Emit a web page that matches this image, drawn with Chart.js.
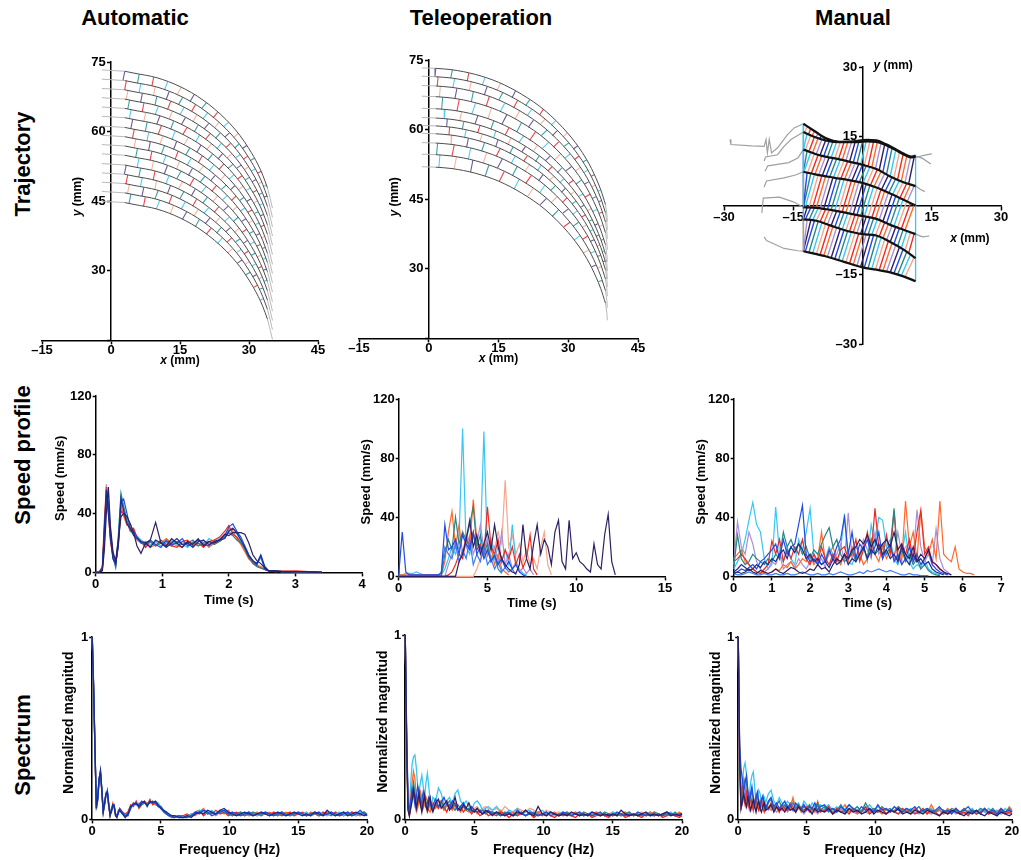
<!DOCTYPE html>
<html>
<head>
<meta charset="utf-8">
<title>Trajectory, speed profile and spectrum</title>
<script src="https://cdn.jsdelivr.net/npm/chart.js@4.4.1/dist/chart.umd.min.js"></script>
<style>
  html, body { margin: 0; padding: 0; background: #fff; }
  body { width: 1021px; height: 860px; position: relative; overflow: hidden; font-family: Arial, "Liberation Sans", sans-serif; }
  .panel { position: absolute; }
  .head { position: absolute; font-weight: bold; font-size: 22px; transform: translate(-50%, -50%); white-space: nowrap; }
  .row { position: absolute; font-weight: bold; font-size: 22px; transform: translate(-50%, -50%) rotate(-90deg); white-space: nowrap; }
</style>
</head>
<body>
<div class="head" style="left:135px;top:18px">Automatic</div>
<div class="head" style="left:481px;top:18px">Teleoperation</div>
<div class="head" style="left:853px;top:18px">Manual</div>
<div class="row" style="left:23px;top:164px">Trajectory</div>
<div class="row" style="left:23px;top:455px">Speed profile</div>
<div class="row" style="left:23px;top:745px">Spectrum</div>
<script>
const FONT = 'Arial, "Liberation Sans", sans-serif';
const C = {
  indigo: '#2e1f63', navy: '#1b2d8f', blue: '#1f4be8', royal: '#3d7cf2', cyan: '#38c6f4',
  red: '#ef2a1f', orange: '#ff6a2b', salmon: '#f7a58c', teal: '#2b8585', lavender: '#a98fd6'
};

// ---- trajectories (mm) ----
// automatic: top arc profile, every other arc is the same path lowered by autoArcDrop
const autoArcX = [3, 5, 10, 15, 20, 25, 28, 30, 32, 33, 34];
const autoArcY = [73.0, 72.6, 71.6, 69.7, 66.8, 62.6, 59.2, 56.3, 52.8, 50.6, 47.9];
const autoArcDrop = [0, 2.0, 4.0, 6.0, 8.0, 10.0, 12.1, 14.1, 16.1, 18.1, 20.2, 22.2, 24.2, 26.2, 28.3];
const autoLeadX = [-2, 3];
const autoLeadY = [73.3, 73.0];
const autoTailX = [34, 34.6, 35.1];
const autoTailY = [47.9, 45.6, 43.5];

const teleArcX = [1.5, 5, 10, 15, 20, 25, 30, 33, 35, 37, 38];
const teleArcY = [73.2, 72.9, 71.9, 70.2, 67.6, 64.1, 59.1, 55.1, 51.6, 47.0, 43.9];
const teleArcDrop = [0, 1.8, 3.8, 6.1, 8.7, 10.7, 12.4, 14.1, 16.1, 18.6, 21.3];
const teleLeadX = [-1.5, 1.5];
const teleLeadY = [73.3, 73.2];
const teleTailX = [38, 38.3, 38.4];
const teleTailY = [43.9, 41.8, 40.2];

// manual: the seven traced paths, top to bottom
const manualPathA = [[-12.8, 17.7], [-10.5, 16.2], [-8, 14.6], [-5, 13.8], [-2, 13.9], [1, 14.2], [3, 14.1], [5, 13.3], [7, 12.3], [9, 11.2], [10.5, 10.6], [11.5, 10.8]];
const manualPathB = [[-12.8, 15.9], [-10.5, 14.9], [-8, 14.1], [-5, 13.7], [-2, 13.7], [1, 13.9], [3, 13.8], [5, 13.1], [7, 12.1], [9, 11.0], [10.5, 10.4], [11.5, 10.6]];
const manualPathC = [[-12.8, 12.1], [-9, 10.8], [-5, 10.0], [-2, 9.3], [0, 8.8], [3, 7.9], [6, 6.3], [9, 5.0], [11.5, 4.2]];
const manualPathD = [[-12.8, 7.3], [-10, 6.7], [-6, 6.0], [-3, 5.5], [0, 4.9], [3, 3.9], [6, 2.6], [9, 1.2], [11.5, 0]];
const manualPathE = [[-12.8, -0.4], [-10, -0.5], [-6, -1.1], [-3, -1.7], [0, -2.3], [3, -2.9], [6, -4.2], [9, -5.3], [11.5, -6.2]];
const manualPathF = [[-12.8, -3.0], [-10, -3.3], [-7, -4.3], [-4, -5.3], [0, -6.2], [3, -6.5], [6, -7.9], [9, -9.6], [11.5, -11.4]];
const manualPathG = [[-12.8, -9.9], [-8, -11.0], [-4, -12.2], [0, -13.4], [3, -13.9], [6, -14.5], [9, -15.4], [11.5, -16.4]];
const manualFanX = [-12.8, -12.0, -11.2, -10.4, -9.6, -8.8, -8.0, -7.2, -6.4, -5.6, -4.8, -4.0, -3.2, -2.4, -1.6, -0.8, 0, 0.8, 1.6, 2.4, 3.2, 4.0, 4.8, 5.6, 6.4, 7.2, 8.0, 8.8, 9.6, 10.4, 11.2];
const manualFanSlant = [0.5, 1.2, 1.5, 2.0, 1.2, 2.0];
const manualLeads = [
  [[-28.7, 14.3], [-28.5, 13.2], [-24, 12.9], [-21.3, 12.8], [-20.9, 14.3], [-20.6, 11.4], [-20.2, 14.3], [-19.7, 11.4], [-18.4, 12.5], [-16.2, 15.4], [-14.8, 16.8], [-12.8, 17.7]],
  [[-21.3, 9.6], [-21, 10.5], [-18.4, 11.0], [-17, 12.8], [-15.5, 14.3], [-12.8, 15.9]],
  [[-21.1, 7.4], [-20.5, 8.6], [-16, 9.3], [-14, 10.3], [-12.8, 12.1]],
  [[-21.3, 4.0], [-20.8, 5.3], [-17, 6.0], [-14.5, 6.6], [-12.8, 7.3]],
  [[-21.8, -1.6], [-21.5, 1.6], [-18, 1.8], [-15, 0.8], [-12.8, -0.4]],
  [[-21.3, -6.8], [-20.8, -7.6], [-17, -9.3], [-14, -9.8], [-12.8, -9.9]],
  [[11.5, 10.7], [13, 10.2], [14.8, 9.0]],
  [[11.5, 10.4], [13.5, 10.9], [15, 11.2]],
  [[11.5, 4.2], [12.5, 3.5], [13.5, 3.0]],
  [[11.5, -6.2], [13, -6.8], [14.5, -6.6]]
];

// ---- speed profiles (mm/s) ----
const autoTime = [0, 0.05, 0.1, 0.13, 0.16, 0.19, 0.22, 0.26, 0.3, 0.34, 0.38, 0.42, 0.47, 0.52, 0.57, 0.62, 0.68, 0.75, 0.82, 0.9, 0.98, 1.06, 1.14, 1.22, 1.3, 1.38, 1.46, 1.54, 1.62, 1.7, 1.78, 1.86, 1.94, 2.0, 2.06, 2.12, 2.18, 2.24, 2.3, 2.36, 2.42, 2.48, 2.54, 2.6, 2.7, 2.8, 3.0, 3.2, 3.4];
const autoIndigo = [0, 0, 1, 15, 40, 58, 32, 14, 8, 22, 38, 40, 38, 33, 27, 18, 13, 20, 22, 34, 20, 18, 23, 20, 17, 21, 19, 23, 18, 21, 20, 22, 26, 25, 27, 27, 27, 26, 20, 12, 8, 6, 3, 1, 1, 0.5, 0.5, 0.3, 0];
const autoNavy = [0, 0, 2, 30, 56, 40, 24, 9, 6, 18, 50, 42, 33, 30, 25, 23, 21, 20, 17, 22, 20, 17, 20, 23, 19, 20, 17, 21, 22, 19, 21, 22, 23, 28, 30, 27, 22, 17, 11, 8, 6, 12, 4, 1, 0.5, 0.5, 0.5, 0.3, 0];
const autoBlue = [0, 0, 3, 25, 52, 48, 28, 12, 5, 20, 48, 50, 40, 30, 28, 24, 20, 19, 22, 19, 17, 22, 19, 20, 23, 18, 20, 22, 19, 18, 21, 22, 25, 31, 33, 28, 24, 18, 12, 8, 5, 11, 2, 1, 1, 0.5, 0.5, 0.3, 0];
const autoCyan = [0, 0, 2, 20, 48, 55, 30, 10, 3, 25, 52, 44, 36, 28, 26, 25, 22, 18, 19, 21, 18, 20, 22, 19, 19, 17, 21, 20, 18, 23, 21, 23, 26, 29, 30, 26, 22, 18, 12, 8, 6, 10, 3, 1, 1, 0.5, 0.5, 0, 0];
const autoRed = [0, 0, 4, 35, 58, 42, 22, 10, 6, 18, 42, 40, 34, 28, 30, 24, 21, 17, 21, 18, 22, 19, 18, 17, 21, 22, 18, 20, 17, 21, 22, 24, 28, 32, 26, 24, 20, 16, 10, 6, 4, 3, 2, 1, 1, 0.5, 1, 0.5, 0];
const autoOrange = [0, 0, 3, 28, 50, 45, 25, 12, 4, 22, 46, 38, 32, 33, 27, 22, 20, 21, 17, 19, 20, 23, 20, 18, 17, 21, 20, 18, 22, 17, 20, 21, 24, 30, 28, 23, 19, 14, 9, 7, 5, 4, 2, 1, 0.5, 1, 0.5, 0.5, 0];
const autoTeal = [0, 0, 3, 26, 50, 46, 26, 11, 4, 24, 54, 45, 35, 29, 27, 24, 21, 19, 21, 18, 20, 21, 18, 21, 19, 20, 22, 18, 20, 21, 19, 21, 24, 27, 25, 22, 20, 16, 10, 7, 4, 3, 2, 1, 1, 0.5, 0.5, 0.3, 0];
const autoLavender = [0, 0, 2, 22, 60, 44, 26, 10, 5, 20, 44, 42, 34, 30, 26, 24, 22, 20, 18, 21, 20, 18, 21, 20, 21, 19, 20, 22, 20, 18, 22, 22, 25, 28, 26, 24, 21, 16, 11, 7, 5, 3, 2, 1, 1, 1, 0.5, 0.3, 0];

const teleTime = [0, 0.2, 0.4, 0.6, 0.8, 1, 1.2, 1.4, 1.6, 1.8, 2, 2.2, 2.4, 2.6, 2.8, 3, 3.2, 3.4, 3.6, 3.8, 4, 4.2, 4.4, 4.6, 4.8, 5, 5.2, 5.4, 5.6, 5.8, 6, 6.2, 6.4, 6.6, 6.8, 7, 7.2, 7.4, 7.6, 7.8, 8, 8.2, 8.4, 8.6, 8.8, 9, 9.2, 9.4, 9.6, 9.8, 10, 10.2, 10.4, 10.6, 10.8, 11, 11.2, 11.4, 11.6, 11.8, 12, 12.2];
const teleIndigo = [0, 0, 0, 0, 0, 0, 0, 0, 0, 0, 0, 0, 0, 0, 0, 0, 0, 10, 15, 25, 38, 20, 28, 15, 22, 30, 18, 35, 20, 12, 8, 5, 3, 2, 8, 35, 12, 5, 22, 35, 15, 25, 20, 8, 30, 38, 10, 5, 38, 12, 16, 10, 8, 5, 3, 22, 8, 5, 28, 42, 10, 1];
const teleBlue = [1, 30, 3, 1, 1, 1, 1, 1, 1, 1, 1, 1, 2, 35, 18, 20, 25, 15, 28, 22, 18, 30, 15, 20, 12, 18, 10, 14, 8, 12, 6, 10, 5, 8, 3, 1, 0];
const teleCyan = [1, 1, 2, 2, 2, 3, 2, 1, 1, 1, 1, 1, 1, 5, 12, 20, 15, 25, 100, 20, 15, 28, 18, 22, 98, 15, 25, 12, 20, 10, 18, 8, 35, 10, 5, 2, 1];
const teleOrange = [1, 1, 1, 1, 1, 1, 1, 1, 1, 1, 1, 1, 1, 10, 30, 44, 20, 35, 15, 28, 20, 52, 25, 18, 22, 14, 20, 8, 15, 5, 3, 1];
const teleRed = [0, 0, 0, 0, 0, 0, 0, 0, 0, 0, 0, 0, 0, 0, 1, 3, 8, 15, 12, 25, 20, 30, 18, 22, 14, 47, 20, 15, 25, 10, 18, 12, 20, 8, 15, 6, 12, 28, 5, 1];
const teleSalmon = [0, 0, 0, 0, 0, 0, 0, 0, 0, 0, 0, 0, 0, 0, 0, 0, 0, 0, 0, 0, 0, 0, 5, 12, 20, 15, 25, 18, 30, 22, 65, 20, 28, 15, 22, 10, 18, 8, 12, 5, 20, 30, 8, 1];
const teleTeal = [0, 0, 0, 0, 0, 0, 0, 0, 0, 0, 0, 0, 0, 15, 25, 18, 40, 22, 30, 25, 35, 47, 20, 28, 15, 22, 10, 15, 5, 2];
const teleLavender = [0, 0, 0, 0, 0, 0, 0, 0, 0, 0, 0, 0, 0, 0, 8, 15, 25, 18, 30, 20, 28, 15, 22, 35, 18, 25, 12, 20, 10, 30, 8, 15, 5, 10, 3, 6, 2, 5, 1];
const teleNavy = [0, 0, 0, 0, 0, 0, 0, 0, 0, 0, 0, 0, 3, 20, 15, 12, 22, 10, 18, 12, 25, 8, 15, 10, 20, 8, 12, 5, 10, 3, 6, 3, 5, 1];

const manualTime = [0, 0.1, 0.2, 0.3, 0.4, 0.5, 0.6, 0.7, 0.8, 0.9, 1, 1.1, 1.2, 1.3, 1.4, 1.5, 1.6, 1.7, 1.8, 1.9, 2, 2.1, 2.2, 2.3, 2.4, 2.5, 2.6, 2.7, 2.8, 2.9, 3, 3.1, 3.2, 3.3, 3.4, 3.5, 3.6, 3.7, 3.8, 3.9, 4, 4.1, 4.2, 4.3, 4.4, 4.5, 4.6, 4.7, 4.8, 4.9, 5, 5.1, 5.2, 5.3, 5.4, 5.5, 5.6, 5.7, 5.8, 5.9, 6, 6.1, 6.2, 6.3];
const manualCyan = [5, 10, 15, 25, 38, 50, 35, 30, 12, 5, 8, 47, 15, 10, 20, 12, 8, 25, 18, 30, 46, 15, 10, 8, 12, 20, 15, 10, 18, 42, 10, 8, 15, 12, 20, 10, 35, 22, 40, 38, 20, 25, 12, 8, 15, 30, 10, 5, 8, 6, 12, 5, 3, 2, 1];
const manualLavender = [8, 37, 20, 15, 30, 22, 10, 5, 3, 5, 10, 8, 15, 5, 8, 10, 6, 12, 8, 5, 10, 15, 8, 12, 6, 18, 10, 15, 22, 10, 43, 12, 20, 15, 25, 18, 12, 30, 15, 20, 25, 18, 12, 30, 15, 20, 22, 12, 45, 20, 10, 15, 8, 32, 12, 5, 3, 1];
const manualBlue = [2, 3, 5, 4, 6, 8, 5, 10, 12, 15, 18, 22, 12, 25, 15, 20, 22, 35, 48, 15, 10, 12, 8, 15, 10, 18, 12, 20, 25, 40, 15, 30, 12, 22, 18, 25, 15, 20, 30, 12, 18, 22, 10, 15, 8, 12, 20, 10, 15, 8, 12, 18, 8, 5, 3, 2, 1];
const manualRed = [10, 12, 15, 12, 8, 5, 3, 2, 5, 8, 24, 15, 25, 10, 18, 12, 20, 15, 25, 12, 8, 15, 10, 20, 12, 8, 15, 10, 18, 20, 12, 15, 25, 10, 18, 30, 15, 46, 20, 12, 28, 15, 44, 10, 20, 15, 25, 12, 30, 45, 15, 20, 10, 8, 5, 3, 1];
const manualOrange = [12, 15, 18, 10, 8, 5, 3, 2, 3, 2, 3, 5, 4, 8, 6, 10, 5, 8, 12, 10, 15, 8, 12, 30, 10, 15, 20, 12, 8, 15, 10, 20, 12, 15, 8, 12, 25, 15, 10, 20, 12, 18, 15, 20, 10, 51, 20, 30, 12, 44, 20, 15, 25, 12, 51, 15, 12, 10, 20, 5, 3, 2, 2, 1];
const manualTeal = [6, 28, 12, 8, 10, 15, 12, 10, 8, 12, 10, 15, 12, 30, 20, 25, 18, 22, 15, 20, 12, 18, 15, 22, 28, 33, 20, 25, 15, 10, 12, 18, 10, 15, 20, 12, 25, 15, 18, 22, 15, 20, 46, 12, 18, 10, 15, 8, 12, 5, 8, 4, 2, 1, 0.5];
const manualIndigo = [2, 3, 2, 3, 5, 3, 2, 4, 3, 2, 3, 5, 3, 2, 4, 6, 5, 3, 2, 3, 5, 4, 8, 5, 6, 3, 8, 12, 10, 15, 12, 18, 20, 25, 22, 28, 20, 25, 18, 22, 25, 20, 30, 18, 22, 15, 12, 20, 10, 15, 12, 18, 10, 8, 5, 3, 2, 1];
const manualNavy = [3, 5, 8, 6, 4, 5, 8, 6, 10, 8, 12, 10, 15, 18, 12, 20, 16, 22, 18, 12, 15, 10, 12, 8, 10, 6, 12, 8, 10, 15, 8, 12, 10, 15, 20, 12, 18, 15, 22, 15, 18, 12, 15, 10, 20, 12, 8, 15, 10, 12, 8, 10, 5, 3, 2, 1];
const manualRoyal = [2, 1, 1, 2, 3, 2, 1, 1, 2, 1, 1, 2, 1, 1, 2, 1, 1, 2, 3, 2, 1, 1, 2, 1, 1, 2, 1, 2, 3, 2, 1, 1, 2, 3, 2, 4, 3, 4, 5, 4, 3, 4, 3, 2, 1, 1, 2, 1, 1, 0.5, 0.5, 0.5];

// ---- spectra (normalized magnitude) ----
const specFreq = [0, 0.1, 0.2, 0.3, 0.4, 0.5, 0.6, 0.7, 0.8, 0.9, 1, 1.1, 1.2, 1.3, 1.4, 1.5, 1.6, 1.7, 1.8, 1.9, 2,
  2.2, 2.4, 2.6, 2.8, 3, 3.2, 3.4, 3.6, 3.8, 4, 4.2, 4.4, 4.6, 4.8, 5, 5.2, 5.4, 5.6, 5.8, 6,
  6.3, 6.6, 6.9, 7.2, 7.5, 7.8, 8.1, 8.4, 8.7, 9, 9.3, 9.6, 9.9, 10.2, 10.5, 10.8, 11.1, 11.4, 11.7, 12,
  12.3, 12.6, 12.9, 13.2, 13.5, 13.8, 14.1, 14.4, 14.7, 15, 15.3, 15.6, 15.9, 16.2, 16.5, 16.8, 17.1, 17.4, 17.7, 18,
  18.3, 18.6, 18.9, 19.2, 19.5, 19.8, 20];

const autoSpecNavy = [1, .72, .38, .06, .12, .22, .27, .16, .04, .09, .14, .15, .08, .02, .05, .08, .07, .02, .01, .04, .05,
  .03, .01, .03, .07, .08, .09, .07, .09, .10, .07, .10, .09, .10, .08, .06, .05, .04, .03, .02, .02,
  .01, .01, .02, .01, .03, .04, .03, .05, .04, .03, .05, .06, .04, .03, .02, .03, .04, .03, .02, .03,
  .04, .03, .02, .03, .04, .03, .02, .03, .04, .03, .02, .03, .02, .04, .03, .02, .05, .03, .02, .03, .04, .02, .03, .04, .03, .02, .03];
const autoSpecBlue = [1, .74, .40, .08, .10, .21, .26, .17, .05, .08, .13, .16, .09, .03, .04, .07, .08, .03, .02, .03, .06,
  .04, .02, .02, .06, .09, .08, .08, .10, .09, .08, .09, .10, .09, .07, .07, .05, .03, .02, .02, .01,
  .02, .01, .01, .02, .04, .03, .05, .04, .02, .03, .04, .05, .03, .04, .03, .02, .03, .04, .02, .03,
  .03, .04, .03, .02, .03, .04, .02, .03, .03, .04, .03, .02, .03, .03, .04, .02, .03, .04, .03, .02, .03, .04, .02, .03, .05, .03, .02];
const autoSpecRed = [1, .71, .37, .07, .13, .23, .25, .15, .03, .10, .14, .14, .07, .03, .06, .08, .06, .02, .02, .05, .06,
  .04, .03, .04, .08, .07, .10, .06, .08, .09, .08, .11, .08, .09, .07, .06, .04, .03, .02, .01, .01,
  .02, .02, .03, .02, .04, .05, .02, .04, .03, .05, .03, .04, .02, .03, .04, .03, .02, .04, .03, .02,
  .04, .03, .02, .04, .03, .02, .03, .04, .02, .03, .04, .03, .02, .03, .02, .04, .03, .02, .04, .03, .02, .03, .04, .02, .03, .04, .03];
const autoSpecOrange = [1, .73, .39, .05, .11, .22, .26, .16, .04, .09, .15, .15, .08, .02, .05, .09, .07, .03, .01, .04, .05,
  .03, .02, .04, .07, .09, .08, .09, .08, .10, .09, .09, .10, .08, .08, .06, .05, .03, .02, .01, .02,
  .01, .02, .01, .03, .02, .04, .06, .03, .04, .02, .04, .03, .05, .02, .03, .04, .03, .02, .03, .04,
  .02, .03, .04, .03, .02, .03, .04, .03, .02, .04, .03, .02, .04, .03, .02, .03, .04, .03, .03, .02, .03, .02, .04, .03, .02, .03, .02];
const autoSpecCyan = [1, .72, .39, .07, .11, .21, .25, .16, .05, .09, .13, .15, .09, .03, .05, .07, .07, .03, .02, .04, .05,
  .04, .02, .03, .06, .08, .09, .08, .09, .09, .08, .10, .09, .10, .09, .07, .05, .04, .02, .02, .02,
  .02, .01, .02, .03, .03, .05, .04, .03, .05, .03, .04, .05, .03, .04, .02, .03, .04, .03, .04, .02,
  .03, .04, .03, .02, .04, .03, .03, .02, .04, .03, .03, .04, .02, .03, .04, .03, .02, .03, .03, .04, .02, .04, .03, .02, .04, .03, .03];
const autoSpecTeal = [1, .73, .38, .06, .12, .22, .26, .15, .04, .08, .14, .15, .08, .02, .05, .08, .07, .02, .02, .04, .05,
  .03, .02, .03, .07, .08, .09, .07, .08, .09, .08, .10, .09, .09, .08, .06, .04, .03, .02, .02, .01,
  .02, .01, .02, .02, .03, .04, .05, .03, .04, .03, .05, .04, .03, .02, .03, .04, .02, .03, .04, .03,
  .02, .04, .03, .03, .02, .04, .03, .02, .03, .04, .03, .02, .03, .04, .02, .03, .03, .04, .02, .03, .04, .03, .02, .03, .03, .04, .02];

const teleSpecCyan = [1, .5, .12, .05, .2, .3, .34, .35, .28, .18, .15, .2, .24, .18, .12, .2, .25, .18, .1, .08, .12,
  .1, .17, .14, .08, .1, .12, .08, .14, .16, .1, .08, .1, .07, .05, .09, .1, .08, .05, .06, .07,
  .05, .07, .04, .03, .05, .04, .06, .03, .04, .05, .03, .04, .05, .03, .04, .02, .03, .04, .03, .02,
  .04, .03, .02, .03, .04, .03, .02, .03, .02, .04, .03, .02, .03, .04, .02, .03, .02, .03, .04, .02, .03, .02, .03, .04, .02, .03, .02];
const teleSpecOrange = [1, .45, .08, .03, .12, .2, .26, .22, .12, .06, .1, .15, .12, .06, .08, .12, .1, .05, .04, .07, .09,
  .06, .1, .08, .05, .09, .07, .05, .08, .06, .04, .07, .05, .04, .06, .05, .03, .04, .05, .03, .04,
  .04, .03, .05, .02, .03, .04, .02, .03, .05, .03, .02, .04, .03, .02, .03, .04, .02, .03, .02, .03,
  .04, .02, .03, .02, .03, .04, .02, .03, .02, .03, .02, .03, .04, .02, .03, .02, .03, .02, .04, .03, .02, .03, .02, .03, .02, .04, .03];
const teleSpecRed = [1, .42, .06, .02, .08, .14, .18, .12, .05, .09, .13, .1, .05, .08, .12, .09, .04, .06, .1, .08, .05,
  .08, .06, .1, .07, .04, .08, .06, .09, .05, .07, .04, .06, .05, .03, .05, .04, .02, .03, .04, .02,
  .03, .02, .04, .03, .01, .03, .02, .04, .02, .03, .01, .03, .02, .04, .02, .01, .03, .02, .03, .02,
  .01, .03, .02, .03, .01, .02, .03, .02, .01, .03, .02, .03, .01, .02, .03, .02, .01, .03, .02, .02, .03, .01, .02, .03, .02, .01, .02];
const teleSpecBlue = [1, .48, .1, .04, .1, .16, .13, .08, .12, .18, .14, .08, .1, .15, .12, .07, .09, .12, .1, .06, .08,
  .11, .07, .09, .12, .08, .06, .1, .08, .05, .07, .09, .06, .05, .07, .05, .04, .05, .03, .04, .05,
  .03, .04, .02, .03, .04, .02, .05, .03, .02, .04, .03, .02, .03, .04, .02, .03, .02, .04, .03, .02,
  .03, .04, .02, .03, .02, .03, .04, .02, .03, .02, .04, .03, .02, .03, .02, .04, .03, .02, .03, .02, .03, .02, .04, .03, .02, .03, .03];
const teleSpecIndigo = [1, .4, .05, .02, .06, .1, .16, .12, .06, .1, .14, .08, .04, .09, .13, .07, .05, .1, .12, .06, .04,
  .09, .11, .06, .08, .1, .05, .07, .12, .06, .05, .08, .06, .09, .05, .04, .06, .04, .03, .05, .04,
  .02, .04, .03, .02, .03, .02, .04, .03, .05, .03, .02, .07, .03, .02, .04, .03, .02, .03, .02, .04,
  .03, .02, .03, .02, .04, .03, .02, .03, .02, .03, .02, .05, .03, .02, .03, .02, .03, .04, .02, .03, .02, .03, .04, .02, .03, .02, .03];
const teleSpecTeal = [1, .44, .07, .03, .09, .15, .2, .14, .07, .12, .16, .11, .06, .1, .14, .09, .05, .08, .11, .07, .06,
  .09, .07, .1, .06, .08, .1, .07, .05, .08, .06, .07, .05, .06, .04, .05, .06, .04, .05, .03, .04,
  .04, .03, .02, .04, .03, .02, .03, .04, .02, .03, .04, .02, .03, .02, .04, .03, .02, .03, .04, .02,
  .03, .02, .04, .03, .02, .03, .02, .04, .03, .02, .03, .02, .03, .04, .02, .03, .02, .03, .02, .04, .03, .02, .03, .02, .04, .02, .03];
const teleSpecSalmon = [1, .43, .06, .02, .07, .12, .15, .1, .06, .09, .12, .08, .05, .07, .1, .08, .05, .07, .09, .06, .05,
  .07, .06, .08, .05, .07, .08, .06, .07, .05, .06, .07, .05, .06, .05, .06, .07, .05, .06, .07, .06,
  .05, .06, .04, .07, .05, .04, .06, .05, .04, .06, .05, .04, .03, .05, .04, .03, .04, .03, .04, .03,
  .03, .04, .03, .02, .03, .04, .03, .02, .03, .04, .03, .02, .04, .03, .02, .03, .04, .02, .03, .04, .02, .03, .04, .03, .02, .03, .03];

const manualSpecCyan = [1, .35, .12, .2, .28, .31, .25, .15, .12, .2, .24, .26, .18, .1, .12, .16, .14, .08, .1, .12, .09,
  .14, .16, .1, .08, .12, .09, .07, .1, .08, .11, .07, .09, .06, .1, .08, .06, .09, .07, .05, .08,
  .06, .08, .05, .07, .04, .06, .08, .05, .07, .04, .06, .08, .05, .07, .05, .06, .04, .07, .05, .06,
  .04, .06, .05, .07, .04, .05, .06, .04, .05, .03, .05, .04, .06, .03, .05, .04, .06, .03, .05, .04, .06, .04, .05, .03, .06, .04, .05];
const manualSpecBlue = [1, .4, .28, .22, .15, .2, .24, .16, .1, .14, .18, .12, .08, .12, .15, .1, .07, .11, .13, .08, .06,
  .1, .12, .07, .09, .06, .08, .1, .06, .08, .05, .09, .07, .06, .08, .05, .07, .06, .09, .05, .07,
  .08, .05, .06, .04, .07, .05, .08, .06, .04, .07, .05, .06, .04, .08, .05, .06, .04, .07, .05, .04,
  .06, .05, .07, .04, .05, .06, .04, .05, .07, .04, .05, .03, .06, .04, .05, .07, .04, .05, .03, .06, .04, .05, .03, .06, .04, .05, .04];
const manualSpecRed = [1, .3, .05, .18, .12, .08, .15, .1, .06, .12, .09, .05, .1, .13, .07, .05, .09, .11, .06, .04, .08,
  .06, .09, .05, .07, .04, .08, .06, .05, .09, .07, .04, .08, .06, .05, .07, .04, .06, .05, .08, .04,
  .05, .07, .03, .06, .04, .05, .03, .06, .05, .04, .07, .03, .05, .04, .06, .03, .05, .04, .03, .06,
  .04, .05, .03, .04, .06, .03, .05, .04, .02, .05, .03, .04, .06, .03, .04, .02, .05, .03, .04, .06, .03, .04, .02, .05, .03, .04, .03];
const manualSpecOrange = [1, .38, .08, .15, .22, .18, .12, .08, .14, .1, .06, .11, .08, .05, .09, .07, .05, .08, .06, .09, .05,
  .07, .05, .08, .06, .04, .07, .05, .08, .06, .12, .05, .07, .04, .08, .06, .05, .07, .04, .1, .06,
  .05, .07, .04, .06, .05, .08, .04, .06, .03, .05, .07, .04, .06, .05, .03, .06, .04, .05, .07, .04,
  .05, .03, .06, .04, .05, .03, .08, .04, .05, .03, .06, .04, .05, .03, .06, .04, .05, .03, .04, .06, .03, .05, .04, .06, .03, .07, .05];
const manualSpecTeal = [1, .42, .15, .1, .18, .22, .2, .14, .09, .12, .16, .11, .07, .1, .13, .08, .06, .1, .12, .07, .05,
  .09, .11, .06, .08, .1, .06, .08, .05, .07, .09, .06, .08, .05, .07, .06, .08, .05, .06, .09, .05,
  .07, .04, .06, .05, .08, .04, .06, .05, .07, .04, .09, .05, .06, .04, .07, .05, .06, .04, .07, .05,
  .06, .04, .05, .07, .04, .06, .05, .04, .06, .05, .04, .06, .05, .04, .06, .03, .05, .04, .06, .05, .04, .06, .03, .05, .04, .06, .04];
const manualSpecIndigo = [1, .36, .06, .1, .14, .1, .07, .12, .09, .05, .08, .11, .07, .04, .08, .1, .06, .04, .07, .09, .05,
  .06, .08, .04, .07, .05, .06, .04, .07, .05, .06, .04, .07, .05, .04, .06, .05, .03, .06, .04, .05,
  .04, .06, .03, .05, .04, .03, .06, .04, .05, .03, .04, .06, .03, .05, .04, .03, .05, .04, .06, .03,
  .04, .03, .05, .04, .03, .05, .04, .03, .02, .04, .03, .05, .04, .03, .02, .04, .03, .05, .03, .02, .04, .03, .02, .04, .03, .02, .03];
const manualSpecLavender = [1, .33, .1, .08, .12, .15, .11, .08, .1, .13, .09, .06, .09, .11, .08, .05, .07, .09, .06, .05, .07,
  .05, .07, .06, .04, .06, .05, .07, .04, .06, .05, .04, .06, .05, .03, .05, .06, .04, .05, .03, .05,
  .04, .05, .03, .04, .06, .03, .05, .04, .03, .05, .04, .03, .05, .04, .06, .03, .04, .05, .03, .04,
  .05, .03, .04, .03, .05, .04, .03, .04, .05, .03, .04, .05, .03, .04, .03, .05, .04, .03, .06, .04, .03, .04, .05, .03, .04, .03, .05];

// ---- helpers ----
const tickText = (v) => (v < 0 ? '\u2013' + Math.abs(v) : String(v));

// pos: 'bottom', 'left', or a crossing position object like {x: 0}
function axis(min, max, ticks, pos, hide, labelPad) {
  const skip = hide || [];
  const vertical = pos === 'left' || (typeof pos === 'object' && 'x' in pos);
  const tl = vertical ? 3 : 4;
  // a crossing y axis right-aligns its labels on the line itself, so pad them with thin spaces
  const crossing = typeof pos === 'object' && vertical;
  const tail = crossing ? '\u2009\u2009' : '';
  return {
    type: 'linear', min, max, position: pos,
    afterBuildTicks: (s) => { s.ticks = ticks.map((v) => ({ value: v })); },
    ticks: {
      color: '#000', padding: labelPad !== undefined ? labelPad : (vertical ? 1 : 0), autoSkip: false, maxRotation: 0,
      font: { family: FONT, weight: 'bold', size: 13 },
      callback: (v) => (skip.includes(v) ? '' : tickText(v) + tail)
    },
    grid: { drawOnChartArea: false, drawTicks: true, tickLength: tl, tickWidth: 1.5, tickColor: '#000' },
    border: { display: true, color: '#000', width: 1.5 }
  };
}

function line(data, color, width, smooth) {
  return {
    data, borderColor: color, backgroundColor: color, borderWidth: width,
    pointRadius: 0, showLine: true, fill: false, clip: false, spanGaps: false,
    tension: 0, cubicInterpolationMode: smooth ? 'monotone' : 'default'
  };
}

const series = (xs, ys, color, width) => line(ys.map((y, i) => ({ x: xs[i], y })).filter((p) => p.x !== undefined), color, width || 1.2);
const lowered = (xs, ys, d) => xs.map((x, i) => ({ x, y: ys[i] - d }));
const pairs = (path) => path.map((p) => ({ x: p[0], y: p[1] }));

function joined(list) {
  const out = [];
  list.forEach((pts) => out.push(...pts, { x: null, y: null }));
  return out;
}

// short connectors between neighbouring arcs, spaced along the arc
function rungs(xs, ys, drops, step, drift, colors) {
  const len = [0];
  for (let i = 1; i < xs.length; i++) len.push(len[i - 1] + Math.hypot(xs[i] - xs[i - 1], ys[i] - ys[i - 1]));
  const total = len[len.length - 1];
  const groups = colors.map(() => []);
  for (let k = 0; k < drops.length - 1; k++) {
    const gap = drops[k + 1] - drops[k];
    let j = 0;
    for (let s = (k * drift) % step; s <= total; s += step, j++) {
      let i = 1;
      while (i < len.length - 1 && len[i] < s) i++;
      const t = (s - len[i - 1]) / (len[i] - len[i - 1]);
      const x = xs[i - 1] + t * (xs[i] - xs[i - 1]);
      const y = ys[i - 1] + t * (ys[i] - ys[i - 1]) - drops[k];
      const m = (ys[i] - ys[i - 1]) / (xs[i] - xs[i - 1]);
      const f = gap / (1 + m * m);
      groups[(j + 2 * k) % colors.length].push({ x, y }, { x: x + m * f, y: y - f }, { x: null, y: null });
    }
  }
  return groups.map((data, i) => line(data, colors[i], 1.1));
}

function yAt(path, x) {
  for (let i = 1; i < path.length; i++) {
    if (x <= path[i][0]) {
      const [x0, y0] = path[i - 1];
      const [x1, y1] = path[i];
      return y0 + (y1 - y0) * (x - x0) / (x1 - x0);
    }
  }
  return path[path.length - 1][1];
}

function fans(paths, slants, xs, colors) {
  const groups = colors.map(() => []);
  let n = 0;
  for (let b = 0; b < paths.length - 1; b++) {
    xs.forEach((x) => {
      const xl = Math.max(xs[0], x - slants[b]);
      groups[n++ % colors.length].push({ x, y: yAt(paths[b], x) }, { x: xl, y: yAt(paths[b + 1], xl) }, { x: null, y: null });
    });
  }
  return groups.map((data, i) => line(data, colors[i], 1.4));
}

const textPlugin = {
  id: 'texts',
  afterDraw(chart, args, opts) {
    const { ctx, chartArea: a, scales } = chart;
    (opts.items || []).forEach((it) => {
      const x = (it.xv !== undefined ? scales.x.getPixelForValue(it.xv) : a[it.xa]) + (it.dx || 0);
      const y = (it.yv !== undefined ? scales.y.getPixelForValue(it.yv) : a[it.ya]) + (it.dy || 0);
      ctx.save();
      ctx.translate(x, y);
      if (it.rot) ctx.rotate(-Math.PI / 2);
      ctx.fillStyle = '#000';
      ctx.textBaseline = 'middle';
      ctx.textAlign = 'left';
      const fonts = it.parts.map((p) => (p[1] ? p[1] + ' ' : '') + 'bold ' + it.size + 'px ' + FONT);
      const widths = it.parts.map((p, i) => { ctx.font = fonts[i]; return ctx.measureText(p[0]).width; });
      const total = widths.reduce((s, w) => s + w, 0);
      let cx = it.align === 'left' ? 0 : -total / 2;
      it.parts.forEach((p, i) => { ctx.font = fonts[i]; ctx.fillText(p[0], cx, 0); cx += widths[i]; });
      ctx.restore();
    });
  }
};

// places a chart so that its plot area lands on box = [left, right, top, bottom] (page px)
function panel(box, datasets, scales, items) {
  const wrap = document.createElement('div');
  wrap.className = 'panel';
  const w = box[1] - box[0];
  const h = box[3] - box[2];
  wrap.style.left = '0px';
  wrap.style.top = '0px';
  wrap.style.width = (w + 120) + 'px';
  wrap.style.height = (h + 120) + 'px';
  document.body.appendChild(wrap);
  const canvas = document.createElement('canvas');
  wrap.appendChild(canvas);
  const chart = new Chart(canvas, {
    type: 'scatter',
    data: { datasets },
    options: {
      responsive: true,
      maintainAspectRatio: false,
      animation: false,
      events: [],
      layout: { padding: { left: 45, right: 20, top: 20, bottom: 40 } },
      plugins: { legend: { display: false }, tooltip: { enabled: false }, texts: { items } },
      scales
    },
    plugins: [textPlugin]
  });
  const a = chart.chartArea;
  const mL = a.left;
  const mT = a.top;
  const mR = chart.width - a.right;
  const mB = chart.height - a.bottom;
  wrap.style.left = Math.round(box[0] - mL) + 'px';
  wrap.style.top = Math.round(box[2] - mT) + 'px';
  wrap.style.width = Math.round(w + mL + mR) + 'px';
  wrap.style.height = Math.round(h + mT + mB) + 'px';
  chart.resize();
  return chart;
}

const xmm = [['x', 'italic'], [' (mm)', '']];
const ymm = [['y', 'italic'], [' (mm)', '']];
const GREY = '#b9b9b9';
const ARC = '#4d4d4d';
const rungColors = ['#6e5c9c', '#3aa3a8', '#f0454a', '#52cdf2', '#f7b5a1'];
const fanColors = [C.cyan, C.salmon, C.red, C.orange, C.lavender, C.indigo, C.blue, C.teal];

// ---- row 1: trajectories ----
panel([41.7, 318, 62, 340], [
  ...autoArcDrop.map((d) => line(lowered(autoArcX, autoArcY, d), ARC, 1, true)),
  ...rungs(autoArcX, autoArcY, autoArcDrop, 3.2, 0.35, rungColors),
  line(joined(autoArcDrop.map((d) => lowered(autoLeadX, autoLeadY, d))), GREY, 1),
  line(joined(autoArcDrop.map((d) => lowered(autoTailX, autoTailY, d))), GREY, 1)
], {
  x: axis(-15, 45, [-15, 0, 15, 30, 45], 'bottom', [], -2),
  y: axis(15, 75, [15, 30, 45, 60, 75], { x: 0 }, [15])
}, [
  { parts: xmm, size: 12, xv: 15, ya: 'bottom', dy: 20 },
  { parts: ymm, size: 12, xv: 0, dx: -33, yv: 46, rot: true }
]);

panel([359, 638.3, 60, 338.3], [
  ...teleArcDrop.map((d) => line(lowered(teleArcX, teleArcY, d), ARC, 1, true)),
  ...rungs(teleArcX, teleArcY, teleArcDrop, 3.6, 0.5, rungColors),
  line(joined(teleArcDrop.map((d) => lowered(teleLeadX, teleLeadY, d))), GREY, 1),
  line(joined(teleArcDrop.map((d) => lowered(teleTailX, teleTailY, d))), GREY, 1)
], {
  x: axis(-15, 45, [-15, 0, 15, 30, 45], 'bottom', [], -2),
  y: axis(15, 75, [15, 30, 45, 60, 75], { x: 0 }, [15])
}, [
  { parts: xmm, size: 12, xv: 15, ya: 'bottom', dy: 20 },
  { parts: ymm, size: 12, xv: 0, dx: -34, yv: 45.5, rot: true }
]);

const manualPaths = [manualPathA, manualPathB, manualPathC, manualPathD, manualPathE, manualPathF, manualPathG];
const first = manualPaths.map((p) => p[0]);
const last = manualPaths.map((p) => p[p.length - 1]);
panel([724.3, 1001, 66.7, 344], [
  ...manualPaths.map((p) => line(pairs(p), '#111', 2.2, true)),
  line([{ x: first[0][0], y: first[0][1] }, { x: first[6][0], y: first[6][1] }], C.cyan, 1.3),
  line([{ x: last[0][0], y: last[0][1] }, { x: last[6][0], y: last[6][1] }], C.cyan, 1.3),
  ...fans(manualPaths, manualFanSlant, manualFanX, fanColors),
  line(joined(manualLeads.map(pairs)), '#a0a0a0', 1.2)
], {
  x: axis(-30, 30, [-30, -15, 0, 15, 30], { y: 0 }, [0]),
  y: axis(-30, 30, [-30, -15, 0, 15, 30], { x: 0 }, [0])
}, [
  { parts: ymm, size: 12, xv: 0, dx: 11, yv: 30, dy: -1, align: 'left' },
  { parts: xmm, size: 12, xv: 19, yv: 0, dy: 33, align: 'left' }
]);

// ---- row 2: speed ----
panel([95.7, 361.7, 396, 572.7], [
  series(autoTime, autoIndigo, C.indigo), series(autoTime, autoNavy, C.navy),
  series(autoTime, autoBlue, C.blue), series(autoTime, autoTeal, C.teal),
  series(autoTime, autoRed, C.red), series(autoTime, autoOrange, C.orange),
  series(autoTime, autoCyan, C.cyan), series(autoTime, autoLavender, C.lavender)
], {
  x: axis(0, 4, [0, 1, 2, 3, 4], 'bottom'),
  y: axis(0, 120, [0, 40, 80, 120], 'left')
}, [
  { parts: [['Speed (mm/s)', '']], size: 13, xa: 'left', dx: -35, yv: 64, rot: true },
  { parts: [['Time (s)', '']], size: 13, xv: 2, ya: 'bottom', dy: 28 }
]);

panel([399, 665.7, 399, 576.7], [
  series(teleTime, teleIndigo, C.indigo), series(teleTime, teleBlue, C.blue),
  series(teleTime, teleNavy, C.royal), series(teleTime, teleTeal, C.teal),
  series(teleTime, teleRed, C.red), series(teleTime, teleOrange, C.orange),
  series(teleTime, teleLavender, C.lavender), series(teleTime, teleCyan, C.cyan),
  series(teleTime, teleSalmon, C.salmon)
], {
  x: axis(0, 15, [0, 5, 10, 15], 'bottom'),
  y: axis(0, 120, [0, 40, 80, 120], 'left')
}, [
  { parts: [['Speed (mm/s)', '']], size: 13, xa: 'left', dx: -32, yv: 64, rot: true },
  { parts: [['Time (s)', '']], size: 13, xv: 7.5, ya: 'bottom', dy: 27 }
]);

panel([734, 1001, 399, 576.7], [
  series(manualTime, manualIndigo, C.indigo), series(manualTime, manualNavy, C.navy),
  series(manualTime, manualBlue, C.blue), series(manualTime, manualTeal, C.teal),
  series(manualTime, manualRed, C.red), series(manualTime, manualOrange, C.orange),
  series(manualTime, manualLavender, C.lavender), series(manualTime, manualCyan, C.cyan),
  series(manualTime, manualRoyal, C.royal)
], {
  x: axis(0, 7, [0, 1, 2, 3, 4, 5, 6, 7], 'bottom'),
  y: axis(0, 120, [0, 40, 80, 120], 'left')
}, [
  { parts: [['Speed (mm/s)', '']], size: 13, xa: 'left', dx: -32, yv: 64, rot: true },
  { parts: [['Time (s)', '']], size: 13, xv: 3.5, ya: 'bottom', dy: 27 }
]);

// ---- row 3: spectra ----
const specScales = () => ({
  x: axis(0, 20, [0, 5, 10, 15, 20], 'bottom'),
  y: axis(0, 1, [0, 1], 'left')
});
const specText = (dx) => [
  { parts: [['Normalized magnitud', '']], size: 14, xa: 'left', dx, yv: 0.53, rot: true },
  { parts: [['Frequency (Hz)', '']], size: 14, xv: 10, ya: 'bottom', dy: 31 }
];

panel([92.7, 367.5, 637.3, 819.3], [
  series(specFreq, autoSpecNavy, C.navy, 1.3), series(specFreq, autoSpecBlue, C.blue, 1.3),
  series(specFreq, autoSpecTeal, C.teal, 1.3), series(specFreq, autoSpecCyan, C.cyan, 1.3),
  series(specFreq, autoSpecRed, C.red, 1.3), series(specFreq, autoSpecOrange, C.orange, 1.3)
], specScales(), specText(-23));

panel([405.7, 682, 635, 819.3], [
  series(specFreq, teleSpecIndigo, C.indigo, 1.3), series(specFreq, teleSpecBlue, C.blue, 1.3),
  series(specFreq, teleSpecTeal, C.teal, 1.3), series(specFreq, teleSpecRed, C.red, 1.3),
  series(specFreq, teleSpecOrange, C.orange, 1.3), series(specFreq, teleSpecCyan, C.cyan, 1.3),
  series(specFreq, teleSpecSalmon, C.salmon, 1.3)
], specScales(), specText(-22));

panel([738.3, 1011.7, 637.3, 819.3], [
  series(specFreq, manualSpecIndigo, C.indigo, 1.3), series(specFreq, manualSpecBlue, C.blue, 1.3),
  series(specFreq, manualSpecTeal, C.teal, 1.3), series(specFreq, manualSpecRed, C.red, 1.3),
  series(specFreq, manualSpecOrange, C.orange, 1.3), series(specFreq, manualSpecCyan, C.cyan, 1.3),
  series(specFreq, manualSpecLavender, C.lavender, 1.3)
], specScales(), specText(-22));
</script>
</body>
</html>
